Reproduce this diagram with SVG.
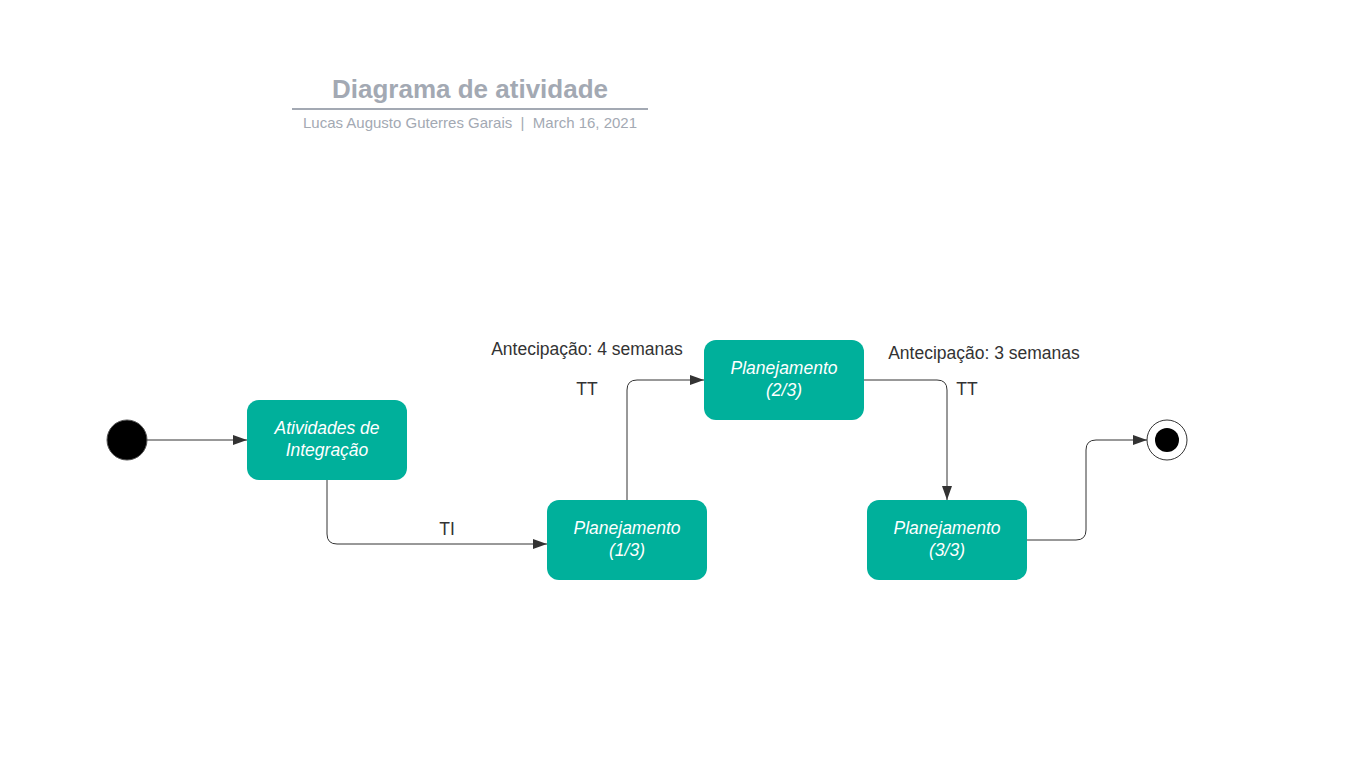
<svg xmlns="http://www.w3.org/2000/svg" width="1347" height="770" viewBox="0 0 1347 770">
<style>
.node{fill:#00b09b;}
.nt{font-family:"Liberation Sans",Arial,sans-serif;font-size:17.5px;font-style:italic;fill:#ffffff;text-anchor:middle;}
.lbl{font-family:"Liberation Sans",Arial,sans-serif;font-size:17.5px;fill:#333333;text-anchor:middle;}
.edge{fill:none;stroke:#333333;stroke-width:1;}
</style>
<defs>
<marker id="arr" markerWidth="14" markerHeight="10" refX="14" refY="5" orient="auto" markerUnits="userSpaceOnUse">
<path d="M0,0 L14,5 L0,10 Z" fill="#333333"/>
</marker>
</defs>
<rect width="1347" height="770" fill="#ffffff"/>
<g id="title">
<text x="470" y="98" font-family="'Liberation Sans',Arial,sans-serif" font-size="26" font-weight="bold" fill="#a3a9b3" text-anchor="middle">Diagrama de atividade</text>
<line x1="292" y1="109" x2="648" y2="109" stroke="#a3a9b3" stroke-width="2"/>
<text x="470" y="128" font-family="'Liberation Sans',Arial,sans-serif" font-size="15" fill="#a3a9b3" text-anchor="middle">Lucas Augusto Guterres Garais&#160;&#160;|&#160;&#160;March 16, 2021</text>
</g>
<g id="connectors">
<path class="edge" d="M147,440 L247,440" marker-end="url(#arr)"/>
<path class="edge" d="M327,480 L327,534 Q327,544 337,544 L547,544" marker-end="url(#arr)"/>
<path class="edge" d="M627,500 L627,390 Q627,380 637,380 L704,380" marker-end="url(#arr)"/>
<path class="edge" d="M864,380 L937,380 Q947,380 947,390 L947,500" marker-end="url(#arr)"/>
<path class="edge" d="M1027,540 L1076,540 Q1086,540 1086,530 L1086,450 Q1086,440 1096,440 L1147,440" marker-end="url(#arr)"/>
<text class="lbl" x="447" y="535">TI</text>
<text class="lbl" x="587" y="395">TT</text>
<text class="lbl" x="967" y="395">TT</text>
<text class="lbl" x="587" y="355">Antecipação: 4 semanas</text>
<text class="lbl" x="984" y="359">Antecipação: 3 semanas</text>
</g>
<g id="start">
<circle cx="127" cy="440" r="20" fill="#000000" stroke="#555555" stroke-width="1"/>
</g>
<g id="n1">
<rect class="node" x="247" y="400" width="160" height="80" rx="12"/>
<text class="nt" x="327" y="434">Atividades de</text>
<text class="nt" x="327" y="456">Integração</text>
</g>
<g id="n2">
<rect class="node" x="547" y="500" width="160" height="80" rx="12"/>
<text class="nt" x="627" y="534">Planejamento</text>
<text class="nt" x="627" y="556">(1/3)</text>
</g>
<g id="n3">
<rect class="node" x="704" y="340" width="160" height="80" rx="12"/>
<text class="nt" x="784" y="374">Planejamento</text>
<text class="nt" x="784" y="396">(2/3)</text>
</g>
<g id="n4">
<rect class="node" x="867" y="500" width="160" height="80" rx="12"/>
<text class="nt" x="947" y="534">Planejamento</text>
<text class="nt" x="947" y="556">(3/3)</text>
</g>
<g id="end">
<circle cx="1167" cy="440" r="20" fill="#ffffff" stroke="#333333" stroke-width="1"/>
<circle cx="1167" cy="440" r="12" fill="#000000"/>
</g>
</svg>
